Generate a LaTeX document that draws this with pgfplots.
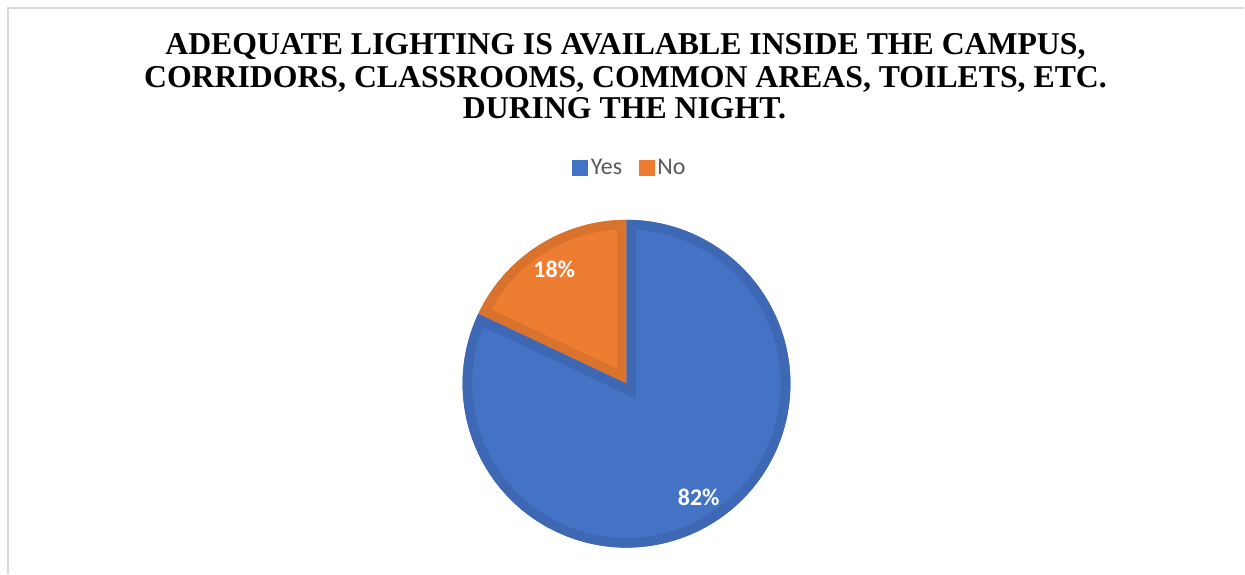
\documentclass[border=0pt]{standalone}
\usepackage{fontspec}
\setmainfont{Liberation Serif}
\newfontfamily\calibri{Carlito}
\usepackage{pgfplots}
\usepackage{pgfplotstable}
\pgfplotsset{compat=1.18}
\definecolor{pieblue}{HTML}{4472C4}
\definecolor{pieblueedge}{HTML}{3E68B4}
\definecolor{pieorange}{HTML}{ED7D31}
\definecolor{pieorangeedge}{HTML}{D9722D}
\definecolor{framegray}{HTML}{D9D9D9}
\definecolor{textgray}{HTML}{595959}
\pgfplotstableread{
label value
Yes 82
No 18
}\piedata
\begin{document}
\begin{tikzpicture}
\pgfplotstablegetelem{0}{value}\of\piedata \let\vyes\pgfplotsretval
\pgfplotstablegetelem{1}{value}\of\piedata \let\vno\pgfplotsretval
\pgfmathsetmacro\total{\vyes+\vno}
\pgfmathsetmacro\aA{90}
\pgfmathsetmacro\aB{90+360*\vno/\total}
\pgfmathsetmacro\aC{450}
\pgfmathsetmacro\mNo{(\aA+\aB)/2}
\pgfmathsetmacro\mYes{(\aB+\aC)/2}
\def\cx{627}\def\cy{190}\def\R{164}
\pgfmathsetmacro\lxNo{\cx+135*cos(\mNo)}
\pgfmathsetmacro\lyNo{\cy+135*sin(\mNo)}
\pgfmathsetmacro\lxYes{\cx+135*cos(\mYes)}
\pgfmathsetmacro\lyYes{\cy+135*sin(\mYes)}
\pgfmathtruncatemacro\pNo{round(100*\vno/\total)}
\pgfmathtruncatemacro\pYes{round(100*\vyes/\total)}
\begin{axis}[x=1bp,y=1bp,xmin=0,xmax=1245,ymin=0,ymax=574,
  hide axis,clip=false,anchor=origin,at={(0,0)},
  legend columns=2,
  legend image code/.code={\fill[#1] (0bp,-7bp) rectangle (15bp,8bp);},
  legend style={at={(axis cs:631,406)},anchor=center,draw=none,fill=none,
    font=\calibri\fontsize{24}{28}\selectfont,text=textgray,
    nodes={inner xsep=3.5bp,inner ysep=0bp},
    /tikz/every even column/.append style={column sep=13bp}},
]
\addlegendimage{pieblue}
\addlegendentry{Yes}
\addlegendimage{pieorange}
\addlegendentry{No}
% frame
\draw[framegray,line width=2bp] (axis cs:8.5,0) -- (axis cs:8.5,565.5) -- (axis cs:1245,565.5);
% title
\node[anchor=base,font=\bfseries\fontsize{31.9}{36}\selectfont] at (axis cs:626,519) {ADEQUATE LIGHTING IS AVAILABLE INSIDE THE CAMPUS,};
\node[anchor=base,font=\bfseries\fontsize{31.9}{36}\selectfont] at (axis cs:626,486.5) {CORRIDORS, CLASSROOMS, COMMON AREAS, TOILETS, ETC.};
\node[anchor=base,font=\bfseries\fontsize{31.9}{36}\selectfont] at (axis cs:625,455) {DURING THE NIGHT.};
% No wedge
\fill[pieorange] (axis cs:\cx,\cy) -- ++(\aA:\R bp) arc[start angle=\aA,end angle=\aB,radius=\R bp] -- cycle;
\begin{scope}
\clip (axis cs:\cx,\cy) -- ++(\aA:\R bp) arc[start angle=\aA,end angle=\aB,radius=\R bp] -- cycle;
\draw[pieorangeedge,line width=19bp] (axis cs:\cx,\cy) -- ++(\aA:\R bp) arc[start angle=\aA,end angle=\aB,radius=\R bp] -- cycle;
\end{scope}
% Yes wedge
\fill[pieblue] (axis cs:\cx,\cy) -- ++(\aB:\R bp) arc[start angle=\aB,end angle=\aC,radius=\R bp] -- cycle;
\begin{scope}
\clip (axis cs:\cx,\cy) -- ++(\aB:\R bp) arc[start angle=\aB,end angle=\aC,radius=\R bp] -- cycle;
\draw[pieblueedge,line width=19bp] (axis cs:\cx,\cy) -- ++(\aB:\R bp) arc[start angle=\aB,end angle=\aC,radius=\R bp] -- cycle;
\end{scope}
\node[text=white,font=\calibri\bfseries\fontsize{24}{28}\selectfont] at (axis cs:\lxNo,\lyNo) {\pNo\%};
\node[text=white,font=\calibri\bfseries\fontsize{24}{28}\selectfont] at (axis cs:\lxYes,\lyYes) {\pYes\%};
\end{axis}
\path (0,0) rectangle (1245bp,574bp);
\end{tikzpicture}
\end{document}
